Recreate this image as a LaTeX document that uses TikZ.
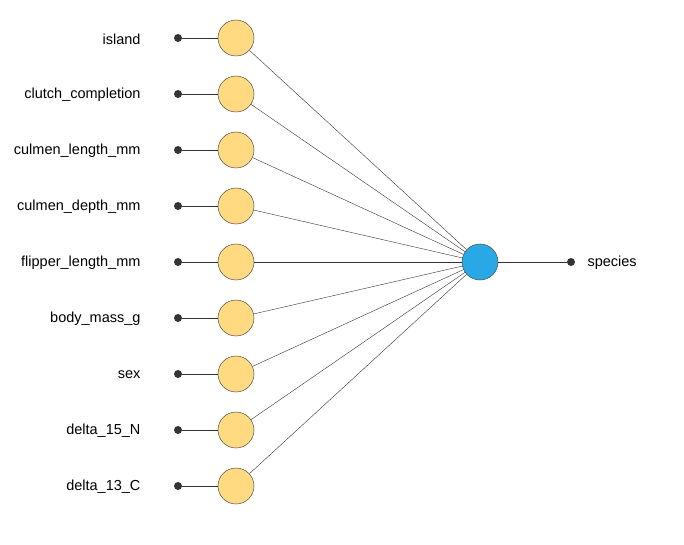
\documentclass[tikz,border=0pt]{standalone}
\usepackage{fontspec}
\setmainfont{Liberation Sans}
\definecolor{inputfill}{HTML}{FFDA80}
\definecolor{outputfill}{HTML}{29A8E6}
\tikzset{
  neuron/.style={draw=black!70,circle,minimum size=36pt,inner sep=0pt,line width=0.5pt},
  pin/.style={fill=black!80,circle,minimum size=8pt,inner sep=0pt},
  feature/.style={anchor=east,font=\fontsize{14.5}{16}\selectfont},
  link/.style={draw=black!80,line width=0.4pt},
}
\begin{document}
\begin{tikzpicture}[x=1pt,y=-1pt]
  \useasboundingbox (0,0) rectangle (684,545);
  \node[neuron,fill=outputfill](out) at (480,262) {};
  \foreach \name [count=\i] in {island,clutch\_completion,culmen\_length\_mm,
      culmen\_depth\_mm,flipper\_length\_mm,body\_mass\_g,sex,delta\_15\_N,delta\_13\_C}{
    \node[neuron,fill=inputfill](in\i) at (236,{38+56*(\i-1)}) {};
    \node[pin](p\i) at (178,{38+56*(\i-1)}) {};
    \node[feature](l\i) at (144,{39+56*(\i-1)}) {\name};
    \path[link] (p\i) -- (in\i);
    \path[link] (in\i) -- (out);
  }
  \node[pin](pout) at (571,262) {};
  \node[anchor=west,font=\fontsize{14.5}{16}\selectfont](target) at (584,263) {species};
  \path[link] (out) -- (pout);
\end{tikzpicture}
\end{document}
